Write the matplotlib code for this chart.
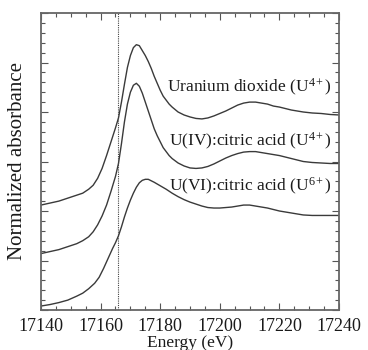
import matplotlib
matplotlib.use("Agg")
import matplotlib.pyplot as plt
from matplotlib.ticker import MultipleLocator

plt.rcParams['font.family'] = ['Liberation Serif', 'DejaVu Serif']
plt.rcParams['mathtext.fontset'] = 'custom'
plt.rcParams['mathtext.rm'] = 'Liberation Serif'
plt.rcParams['mathtext.it'] = 'Liberation Serif:italic'
plt.rcParams['mathtext.bf'] = 'Liberation Serif:bold'

# Uranium dioxide (U4+)
uo2_e = [17140, 17143, 17146, 17149, 17152, 17154, 17156, 17157.5, 17159, 17160.5,
         17162, 17163.5, 17165, 17166, 17167, 17168, 17169, 17170, 17171, 17172,
         17173, 17174, 17175, 17176, 17177, 17178, 17179, 17180, 17181, 17182,
         17183, 17184, 17186, 17188, 17190, 17192, 17194, 17196, 17198, 17200,
         17202, 17204, 17206, 17208, 17210, 17212, 17214, 17216, 17218, 17220,
         17222, 17224, 17226, 17228, 17231, 17234, 17237, 17240]
uo2_a = [1.06, 1.08, 1.10, 1.13, 1.16, 1.18, 1.22, 1.26, 1.33, 1.43,
         1.56, 1.70, 1.84, 1.94, 2.10, 2.28, 2.45, 2.57, 2.65, 2.68,
         2.67, 2.62, 2.57, 2.51, 2.44, 2.36, 2.29, 2.22, 2.16, 2.12,
         2.08, 2.05, 2.00, 1.97, 1.95, 1.935, 1.93, 1.94, 1.96, 1.985,
         2.01, 2.04, 2.07, 2.09, 2.10, 2.10, 2.09, 2.08, 2.06, 2.05,
         2.035, 2.02, 2.01, 2.00, 1.99, 1.985, 1.975, 1.97]

# U(IV):citric acid (U4+)
u4_e = [17140, 17143, 17146, 17149, 17152, 17154, 17156, 17157.5, 17159, 17160.5,
        17162, 17163.5, 17165, 17166, 17167, 17168, 17169, 17170, 17171, 17172,
        17173, 17174, 17175, 17176, 17177, 17178, 17179, 17180, 17181, 17182,
        17183, 17184, 17186, 17188, 17190, 17192, 17194, 17196, 17198, 17200,
        17202, 17204, 17206, 17208, 17210, 17212, 17214, 17216, 17218, 17220,
        17222, 17224, 17226, 17228, 17231, 17234, 17237, 17240]
u4_a = [0.57, 0.59, 0.61, 0.64, 0.67, 0.70, 0.74, 0.79, 0.86, 0.95,
        1.06, 1.20, 1.35, 1.48, 1.68, 1.90, 2.08, 2.20, 2.27, 2.29,
        2.26, 2.19, 2.10, 2.01, 1.92, 1.83, 1.76, 1.70, 1.64, 1.60,
        1.56, 1.53, 1.485, 1.455, 1.435, 1.43, 1.435, 1.45, 1.475, 1.505,
        1.535, 1.56, 1.58, 1.595, 1.60, 1.60, 1.59, 1.58, 1.57, 1.56,
        1.545, 1.53, 1.515, 1.50, 1.49, 1.485, 1.48, 1.48]

# U(VI):citric acid (U6+)
u6_e = [17140, 17143, 17146, 17149, 17152, 17154, 17156, 17158, 17159.5, 17161,
        17162.5, 17164, 17165, 17166, 17167, 17168, 17169, 17170, 17171, 17172,
        17173, 17174, 17175, 17176, 17177, 17178, 17180, 17182, 17184, 17186,
        17188, 17190, 17192, 17194, 17196, 17198, 17200, 17202, 17204, 17206,
        17208, 17210, 17212, 17214, 17216, 17218, 17220, 17222, 17224, 17226,
        17228, 17231, 17234, 17237, 17240]
u6_a = [0.04, 0.055, 0.075, 0.10, 0.14, 0.17, 0.215, 0.27, 0.33, 0.42,
        0.52, 0.62, 0.68, 0.75, 0.84, 0.94, 1.03, 1.11, 1.18, 1.24,
        1.285, 1.31, 1.32, 1.32, 1.305, 1.29, 1.255, 1.22, 1.18, 1.145,
        1.115, 1.09, 1.07, 1.05, 1.035, 1.03, 1.03, 1.035, 1.04, 1.05,
        1.06, 1.06, 1.05, 1.04, 1.03, 1.015, 1.00, 0.99, 0.98, 0.97,
        0.96, 0.955, 0.955, 0.955, 0.955]

labels = ['Uranium dioxide (U$^{4+}$)', 'U(IV):citric acid (U$^{4+}$)',
          'U(VI):citric acid (U$^{6+}$)']
label_y = [2.25, 1.70, 1.25]
edge_energy = 17166

fig = plt.figure(figsize=(3.68, 3.5), dpi=100)
ax = fig.add_axes([41/368, 40/350, 298/368, 297/350])

lc = '#3a3a3a'
for e, a in [(uo2_e, uo2_a), (u4_e, u4_a), (u6_e, u6_a)]:
    ax.plot(e, a, color=lc, lw=1.0)

ax.axvline(edge_energy, color='#444444', lw=0.8, ls=(0, (1, 1)))

for lab, y in zip(labels, label_y):
    ax.text(17237.5, y, lab, ha='right', va='center', fontsize=12.5, color='#1a1a1a')

ax.set_xlim(17140, 17240)
ax.set_ylim(0, 3.0)
ax.xaxis.set_major_locator(MultipleLocator(20))
ax.xaxis.set_minor_locator(MultipleLocator(5))
ax.yaxis.set_major_locator(MultipleLocator(0.5))
ax.yaxis.set_minor_locator(MultipleLocator(0.1))
ax.tick_params(which='both', direction='in', top=True, right=True, color='#555555')
ax.tick_params(which='major', length=5, width=0.8, labelsize=13, pad=6, labelcolor='#1a1a1a')
ax.tick_params(which='minor', length=3, width=0.8)
ax.tick_params(axis='y', which='both', labelleft=False)
for s in ax.spines.values():
    s.set_color('#666666')
    s.set_linewidth(1.3)

ax.set_xlabel('Energy (eV)', fontsize=12.5, labelpad=0, color='#1a1a1a')
ax.set_ylabel('Normalized absorbance', fontsize=15, labelpad=10, color='#1a1a1a')

fig.savefig('out.png', dpi=100)
